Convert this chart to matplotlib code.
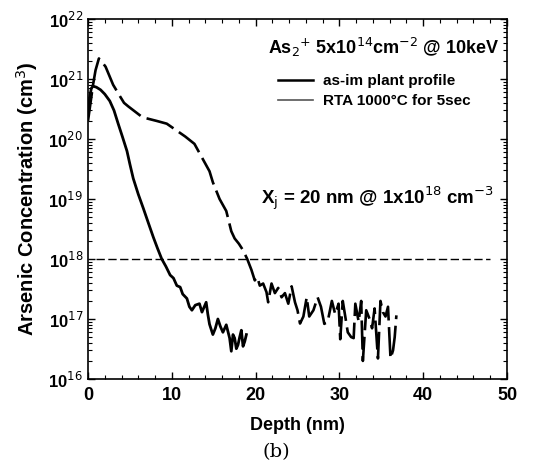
import matplotlib
matplotlib.use("Agg")
import matplotlib.pyplot as plt
from matplotlib.lines import Line2D
from matplotlib.ticker import LogLocator, MultipleLocator, NullFormatter, FixedLocator

plt.rcParams['font.family'] = ['Liberation Sans', 'DejaVu Sans']

# As-implant profile
imp_x = [0.0, 0.2, 0.4, 0.6, 1.0, 1.5, 2.0, 2.6, 3.1, 3.6, 4.1, 4.65, 5.0, 5.4, 6.0, 6.6, 7.2, 7.8, 8.3, 8.8,
         9.3, 9.8, 10.2, 10.6, 11.0, 11.3, 11.8, 12.1, 12.4, 12.8, 13.3, 13.6, 14.1, 14.3, 14.5, 14.9,
         15.2, 15.5, 15.8, 16.1, 16.5, 16.9, 17.1, 17.3, 17.5, 17.7, 17.9, 18.1, 18.3, 18.5, 18.7, 18.9]
imp_y = [3e20, 5e20, 7e20, 7.6e20, 7.3e20, 6.6e20, 5.6e20, 4.3e20, 3.0e20, 1.8e20, 1.1e20, 6.3e19, 3.8e19, 2.2e19,
         1.2e19, 7e18, 4e18, 2.3e18, 1.5e18, 1e18,
         7.5e17, 5.4e17, 4.8e17, 3.6e17, 3.4e17, 2.6e17, 2.2e17, 1.6e17, 1.4e17, 1.7e17, 1.8e17, 1.3e17, 1.9e17,
         1.2e17, 8.2e16, 5.5e16, 7e16, 1e17, 7.5e16, 6e16, 8e16, 4.8e16, 2.9e16, 5.5e16, 4.8e16, 3.2e16,
         3.7e16, 5e16, 6.5e16, 3.5e16, 4.2e16, 5.5e16]

# RTA 1000C for 5 sec
rta_x = [0.0, 0.3, 0.6, 0.9, 1.3, 1.7, 2.1, 3.0, 3.8, 4.3, 4.8, 6.5, 8.2, 9.4, 11.6, 12.7, 14.5, 14.9,
         15.7, 16.5, 17.1, 17.5, 18.0, 18.5,
         19.0, 19.5, 19.9, 20.2, 20.5, 20.9, 21.3, 21.5, 21.9, 22.3, 22.7, 23.1, 23.5, 23.9, 24.3, 24.7,
         25.0, 25.3, 25.7, 26.1, 26.4, 26.9, 27.4, 27.8, 28.2, 28.6, 29.1, 29.5, 29.9, 30.1, 30.4, 30.7,
         31.0, 31.4, 31.7, 31.9, 32.3, 32.6, 32.8, 33.2, 33.6, 33.9, 34.2, 34.6, 34.9, 35.2, 35.5, 35.8,
         36.1, 36.4, 36.6, 36.8]
rta_y = [2e20, 4e20, 8e20, 1.4e21, 2.2e21, 1.9e21, 1.6e21, 8e20, 5.2e20, 4e20, 3.5e20, 2.3e20, 2e20, 1.8e20,
         1.1e20, 8.3e19, 2.9e19, 1.9e19, 1e19, 6.3e18, 2.9e18, 2.2e18, 1.8e18, 1.4e18,
         1e18, 6.6e17, 4.4e17, 5e17, 3.6e17, 3.9e17, 2.8e17, 1.9e17, 3.9e17, 2.7e17, 3.3e17, 2.3e17,
         2.7e17, 1.8e17, 3.5e17, 1.9e17, 1.4e17, 8.4e16, 1.1e17, 2.3e17, 1.1e17, 1.4e17, 2.3e17, 1.6e17,
         8.3e16, 9e16, 2e17, 1.2e17, 1.8e17, 4.6e16, 2e17, 1.1e17, 6e16, 5e16, 4.8e16, 1.8e17, 9e16,
         2e17, 2e16, 1.4e17, 1e17, 7e16, 1.5e17, 2.2e16, 2e17, 1.3e17, 1.1e17, 1.6e17, 2.2e16, 3e16,
         5e16, 1.15e17]

xj_x = [1.0, 48.0]
xj_y = [1e18, 1e18]

x_ticks = [0, 10, 20, 30, 40, 50]
y_ticks = [1e16, 1e17, 1e18, 1e19, 1e20, 1e21, 1e22]
y_labels = ['10$^{16}$', '10$^{17}$', '10$^{18}$', '10$^{19}$', '10$^{20}$', '10$^{21}$', '10$^{22}$']

fig = plt.figure(figsize=(5.53, 4.71), dpi=100)
ax = fig.add_axes([88/553, 1-379/471, (507-88)/553, (379-19)/471])

ax.plot(imp_x, imp_y, color='black', lw=2.0)
ax.plot(rta_x, rta_y, color='black', lw=1.9, dashes=(11, 2.5))
ax.plot(xj_x, xj_y, color='black', lw=1.0, dashes=(6, 2.5))

ax.set_yscale('log')
ax.set_xlim(0, 50)
ax.set_ylim(1e16, 1e22)
ax.set_xticks(x_ticks)
ax.set_xticklabels([str(t) for t in x_ticks], fontweight='bold', fontsize=13)
ax.xaxis.set_minor_locator(MultipleLocator(2))
ax.yaxis.set_major_locator(FixedLocator(y_ticks))
ax.set_yticklabels(y_labels, fontweight='bold', fontsize=12)
ax.yaxis.set_minor_locator(LogLocator(base=10, subs=range(2, 10), numticks=20))
ax.yaxis.set_minor_formatter(NullFormatter())
ax.tick_params(which='both', direction='in', top=True, right=True)
ax.tick_params(which='major', length=5, width=1)
ax.tick_params(which='minor', length=3, width=0.8)
ax.tick_params(axis='x', which='major', pad=6)
for s in ax.spines.values():
    s.set_linewidth(1.2)

ax.set_xlabel('Depth (nm)', fontweight='bold', fontsize=13, labelpad=9)
ax.set_ylabel('Arsenic Concentration (cm$^{3}$)', fontweight='bold', fontsize=14.5, labelpad=6)

ax.text(21.5, 10**21.53, 'As$_2$$^{+}$ 5x10$^{14}$cm$^{-2}$ @ 10keV', fontweight='bold', fontsize=13,
        va='center', ha='left')
ax.text(20.6, 10**19.0, 'X$_{\\mathrm{j}}$ = 20 nm @ 1x10$^{18}$ cm$^{-3}$', fontweight='bold', fontsize=13.5,
        va='center', ha='left')

handles = [Line2D([], [], color='black', lw=1.8), Line2D([], [], color='#555555', lw=1.2)]
leg = ax.legend(handles, ['as-im plant profile', 'RTA 1000°C for 5sec'], loc='upper left',
                bbox_to_anchor=(0.42, 0.885), frameon=False, handlelength=2.3, handletextpad=0.65,
                labelspacing=0.4, prop={'weight': 'bold', 'size': 11})

fig.text(276/553, 1-452/471, '(b)', family='DejaVu Serif', fontsize=14, ha='center', va='center')

fig.savefig('out.png', dpi=100)
